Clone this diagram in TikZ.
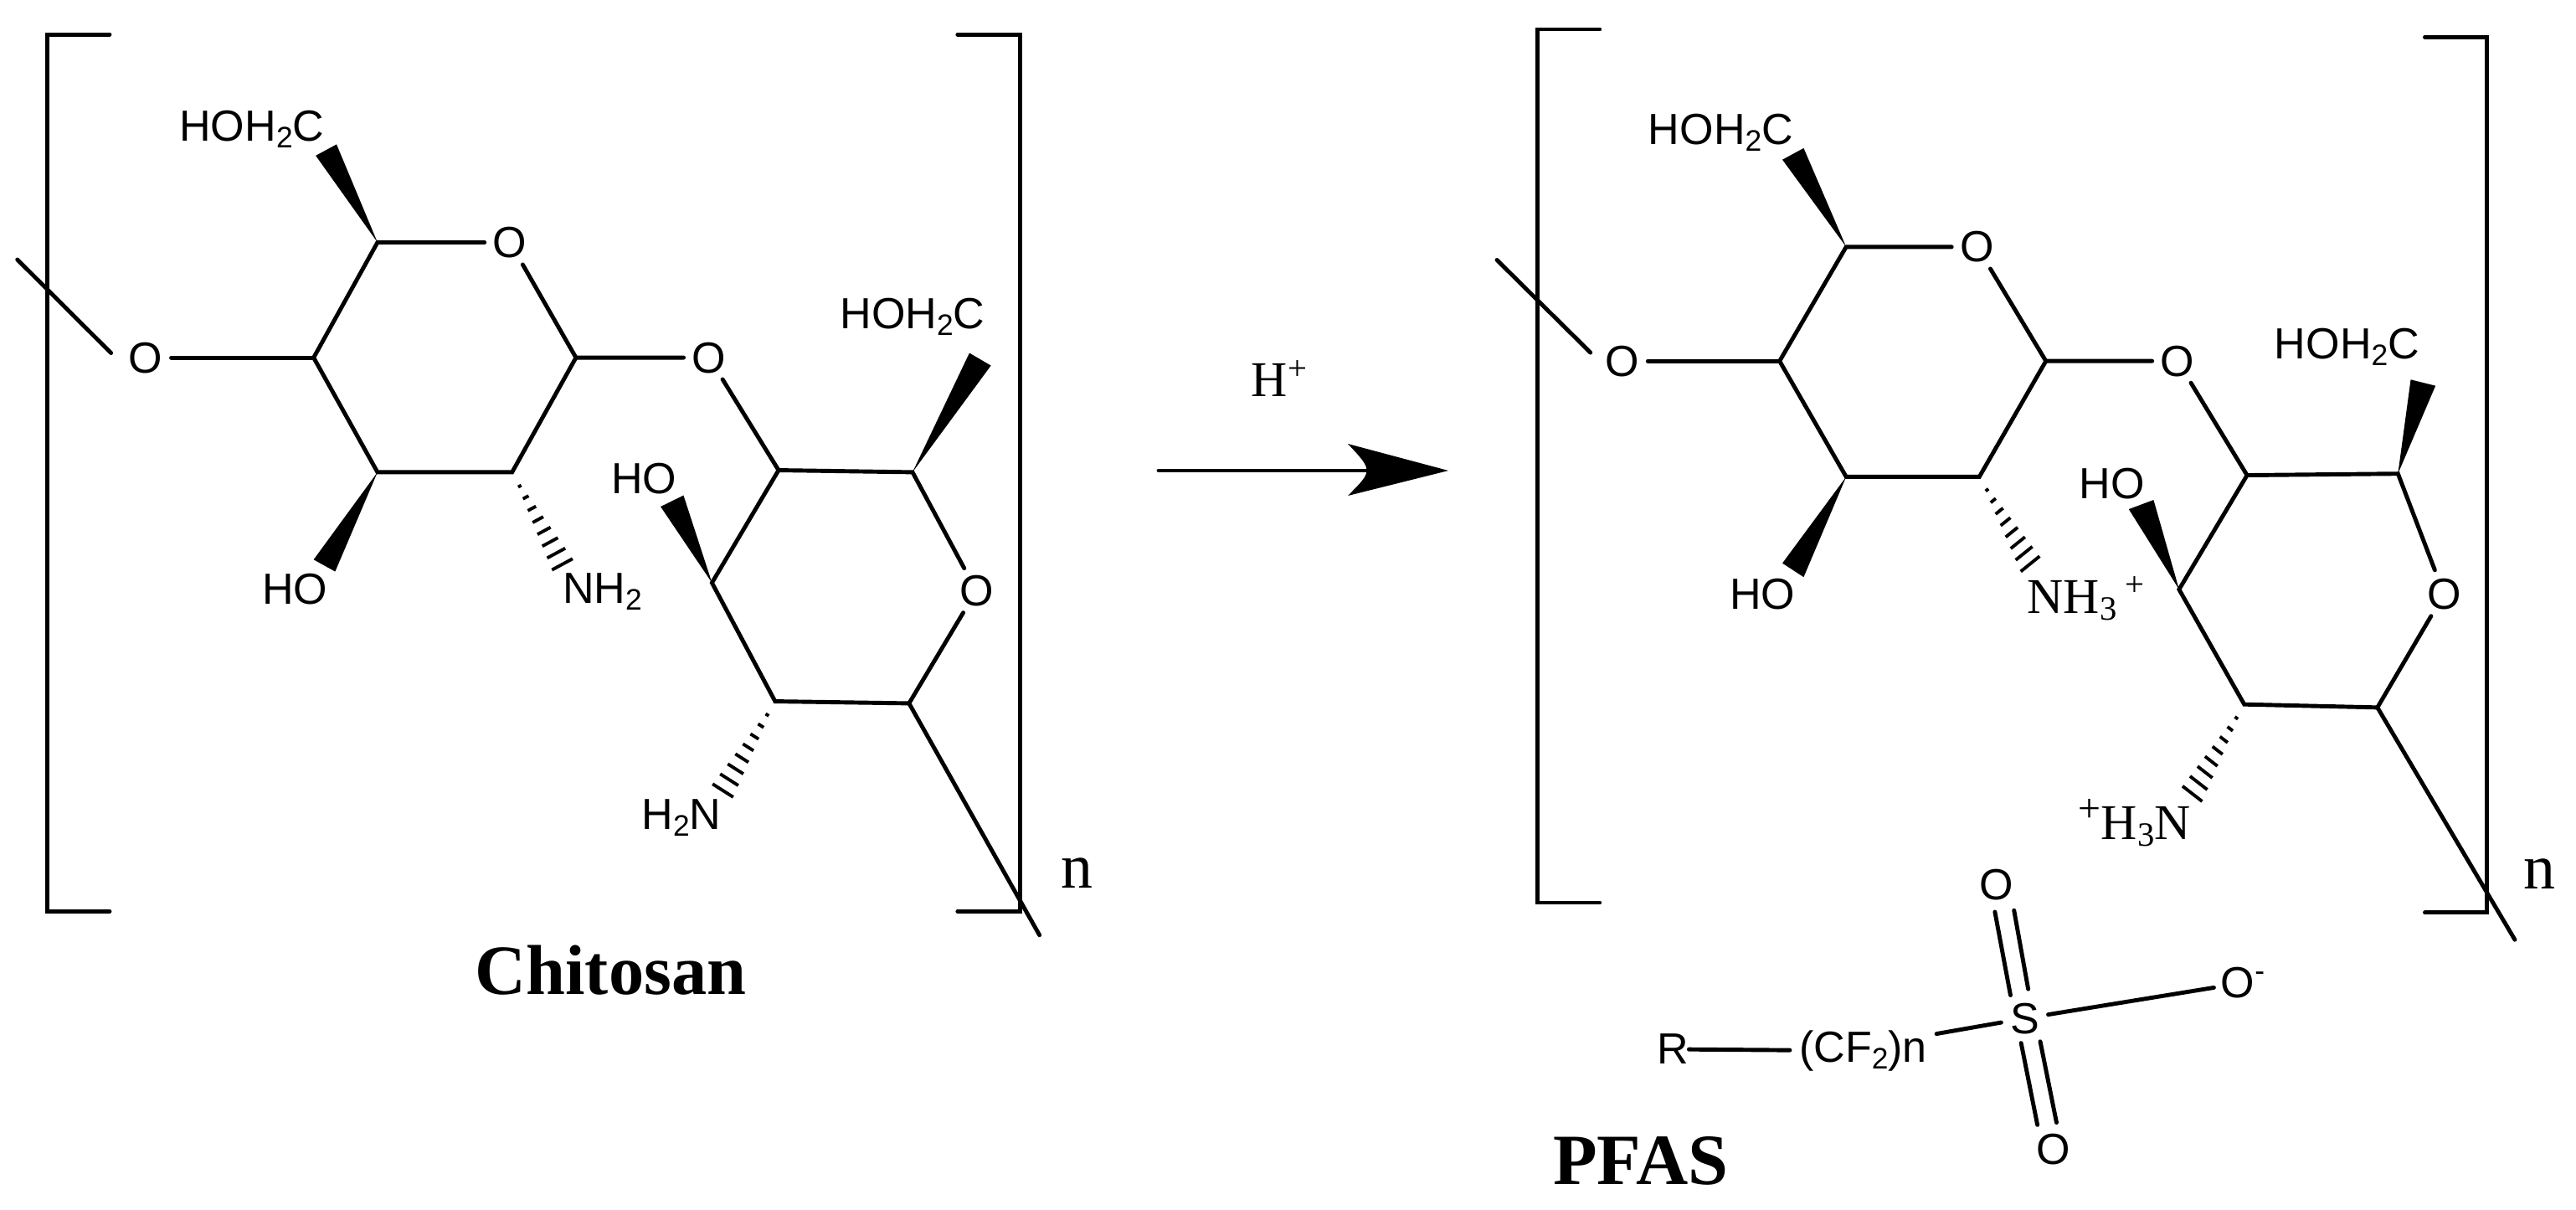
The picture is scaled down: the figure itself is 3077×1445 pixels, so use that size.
\documentclass[tikz,border=0pt]{standalone}
\usepackage{fontspec}
\setmainfont{Liberation Serif}
\setsansfont{Liberation Sans}
\usetikzlibrary{calc}
\newcommand{\lowr}[1]{\raisebox{-0.3ex}{\scalebox{0.68}{#1}}}
\newcommand{\upr}[1]{\raisebox{0.75ex}{\scalebox{0.68}{#1}}}
\newcommand{\wedgeb}[3]{\fill[black] (#1)--(#2)--(#3)--cycle;}
\newcommand{\hashb}[3]{\foreach \t in {0.15,0.27,...,1.0}{\draw[line width=1.1pt] ($(#1)!\t!(#2)$)--($(#1)!\t!(#3)$);}}
\tikzset{
 bond/.style={line width=1.4pt,line cap=round},
 lab/.style={font=\fontsize{14.8pt}{16pt}\sffamily,inner sep=0pt},
 atom/.style={lab,circle,inner sep=0.5pt},
 ser/.style={font=\fontsize{17pt}{19pt}\rmfamily,inner sep=0pt},
 title/.style={font=\fontsize{24pt}{26pt}\rmfamily\bfseries,inner sep=0pt},
 bignn/.style={font=\fontsize{21.6pt}{24pt}\rmfamily,inner sep=0pt},
}
\begin{document}
\begin{tikzpicture}[x=0.01cm,y=-0.01cm]
\useasboundingbox (0,0) rectangle (3077,1445);
% Left molecule
\begin{scope}[x=0.01cm/1.206,y=-0.01cm/1.2645]
\coordinate (lbt) at (158,52);\coordinate (lbtc) at (68,52);\coordinate (lbbc) at (68,1376);\coordinate (lbb) at (158,1376);
\coordinate (rbt) at (1380,52);\coordinate (rbtc) at (1470,52);\coordinate (rbbc) at (1470,1376);\coordinate (rbb) at (1380,1376);
\draw[bond] (lbt)--(lbtc)--(lbbc)--(lbb);
\draw[bond] (rbt)--(rbtc)--(rbbc)--(rbb);
\coordinate (c5) at (544,366);\coordinate (c1) at (830,540);\coordinate (c2) at (738,713);\coordinate (c3) at (544,713);\coordinate (c4) at (452,540);
\node[atom] (o5) at (735,366) {O};
\node[atom] (o4) at (210,540) {O};
\node[atom] (o1) at (1022,540) {O};
\coordinate (a) at (1122,710);\coordinate (b) at (1315,713);\coordinate (cc) at (1310,1062);\coordinate (d) at (1117,1059);\coordinate (e) at (1026,880);
\node[atom] (o6) at (1407,892) {O};
\coordinate (sl1) at (25,392);\coordinate (sl2) at (160,533);\coordinate (tail) at (1498,1412);
\draw[bond] (c5)--(o5)--(c1)--(c2)--(c3)--(c4)--(c5);
\draw[bond] (o4)--(c4);\draw[bond] (sl1)--(sl2);
\draw[bond] (c1)--(o1)--(a)--(b)--(o6)--(cc)--(d)--(e)--(a);
\draw[bond] (cc)--(tail);
\node[lab] (t1) at (363,195) {HOH\lowr{2}C};
\coordinate (w1a) at (455,235);\coordinate (w1b) at (485,218);\wedgeb{c5}{w1a}{w1b}
\node[lab] (t2) at (425,890) {HO};
\coordinate (w2a) at (452,845);\coordinate (w2b) at (483,863);\wedgeb{c3}{w2a}{w2b}
\node[lab] (t3) at (868,893) {NH\lowr{2}};
\coordinate (h1a) at (796,862);\coordinate (h1b) at (826,845);\hashb{c2}{h1a}{h1b}
\node[lab] (t4) at (1315,478) {HOH\lowr{2}C};
\coordinate (w3a) at (1397,533);\coordinate (w3b) at (1428,552);\wedgeb{b}{w3a}{w3b}
\node[lab] (t5) at (928,723) {HO};
\coordinate (w4a) at (952,765);\coordinate (w4b) at (985,748);\wedgeb{e}{w4a}{w4b}
\node[lab] (t6) at (982,1235) {H\lowr{2}N};
\coordinate (h2a) at (1026,1185);\coordinate (h2b) at (1056,1205);\hashb{d}{h2a}{h2b}
\node[bignn] (nl) at (1552,1318) {n};
\node[title] (chi) at (880,1465) {Chitosan};
\end{scope}
% Reaction arrow
\coordinate (ar1) at (1384,562);\coordinate (ar2) at (1730,562);
\coordinate (ar3) at (1610,530);\coordinate (ar4) at (1640,562);\coordinate (ar5) at (1610,592);
\draw[bond] (ar1)--(ar4);
\fill[black] (ar2)--(ar3) .. controls (ar4) and (ar4) .. (ar5)--cycle;
\node[ser] (hp) at (1528,452) {H\upr{+}};
% Right molecule
\begin{scope}[shift={(1750,0)},x=0.01cm/1.1816,y=-0.01cm/1.085]
\coordinate (Lbt) at (190,38);\coordinate (Lbtc) at (102,38);\coordinate (Lbbc) at (102,1170);\coordinate (Lbb) at (190,1170);
\coordinate (Rbt) at (1355,48);\coordinate (Rbtc) at (1443,48);\coordinate (Rbbc) at (1443,1183);\coordinate (Rbb) at (1355,1183);
\draw[bond] (Lbt)--(Lbtc)--(Lbbc)--(Lbb);
\draw[bond] (Rbt)--(Rbtc)--(Rbbc)--(Rbb);
\coordinate (C5) at (538,320);\coordinate (C1) at (820,468);\coordinate (C2) at (726,618);\coordinate (C3) at (538,618);\coordinate (C4) at (444,468);
\node[atom] (O5) at (723,320) {O};
\node[atom] (O4) at (222,468) {O};
\node[atom] (O1) at (1006,468) {O};
\coordinate (A) at (1104,616);\coordinate (B) at (1317,614);\coordinate (CC) at (1288,917);\coordinate (D) at (1100,913);\coordinate (E) at (1008,764);
\node[atom] (O6) at (1382,770) {O};
\coordinate (Sl1) at (45,337);\coordinate (Sl2) at (177,457);\coordinate (Tail) at (1482,1218);
\draw[bond] (C5)--(O5)--(C1)--(C2)--(C3)--(C4)--(C5);
\draw[bond] (O4)--(C4);\draw[bond] (Sl1)--(Sl2);
\draw[bond] (C1)--(O1)--(A)--(B)--(O6)--(CC)--(D)--(E)--(A);
\draw[bond] (CC)--(Tail);
\node[lab] (T1) at (361,172) {HOH\lowr{2}C};
\coordinate (W1a) at (448,207);\coordinate (W1b) at (478,192);\wedgeb{C5}{W1a}{W1b}
\node[lab] (T2) at (420,770) {HO};
\coordinate (W2a) at (448,730);\coordinate (W2b) at (478,748);\wedgeb{C3}{W2a}{W2b}
\node[ser,anchor=base west] (T3) at (793,795) {NH\lowr{3}\,\upr{+}};
\coordinate (H1a) at (785,742);\coordinate (H1b) at (812,722);\hashb{C2}{H1a}{H1b}
\node[lab] (T4) at (1245,450) {HOH\lowr{2}C};
\coordinate (W3a) at (1335,492);\coordinate (W3b) at (1370,500);\wedgeb{B}{W3a}{W3b}
\node[lab] (T5) at (913,627) {HO};
\coordinate (W4a) at (937,660);\coordinate (W4b) at (972,648);\wedgeb{E}{W4a}{W4b}
\node[ser,anchor=base east] (T6) at (1025,1088) {\raisebox{0.75ex}{\scalebox{0.8}{+}}H\lowr{3}N};
\coordinate (H2a) at (1012,1020);\coordinate (H2b) at (1040,1040);\hashb{D}{H2a}{H2b}
\node[bignn] (Nl) at (1517,1133) {n};
% PFAS
\node[lab] (R) at (293,1360) {R};
\node[lab,inner sep=3pt] (CF) at (562,1362) {(CF\lowr{2})n};
\node[atom] (S) at (790,1320) {S};
\node[atom] (Om) at (1098,1274) {O\upr{-}};
\node[atom] (Ot) at (750,1147) {O};
\node[atom] (Ob) at (830,1490) {O};
\draw[bond] (R)--(CF);
\draw[bond] (CF.east)++(0,-22)coordinate(cfe)--(S);
\draw[bond] (S)--(Om);
\coordinate (dt1) at (770,1290);\coordinate (dt2) at (748,1182);\coordinate (dt3) at (795,1282);\coordinate (dt4) at (775,1180);
\coordinate (db1) at (785,1352);\coordinate (db2) at (808,1458);\coordinate (db3) at (812,1350);\coordinate (db4) at (835,1455);
\draw[bond] (dt1)--(dt2);\draw[bond] (dt3)--(dt4);\draw[bond] (db1)--(db2);\draw[bond] (db3)--(db4);
\node[title,font=\fontsize{24.5pt}{26pt}\rmfamily\bfseries] (pf) at (248,1505) {PFAS};
\end{scope}
\end{tikzpicture}
\end{document}
